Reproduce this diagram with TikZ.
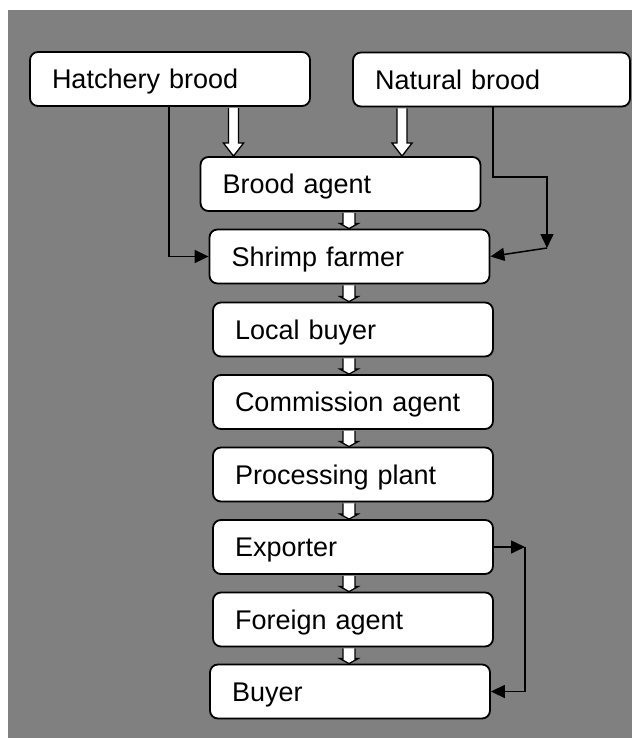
\documentclass[tikz,border=0pt]{standalone}
\usepackage{fontspec}
\setmainfont{Liberation Sans}
\usetikzlibrary{arrows.meta,calc}
\definecolor{bggray}{HTML}{808080}

% hollow (white) block arrow pointing down, from node #1 to node #2 along the
% vertical through coordinate #3; #4 shaft half width, #5 head half width, #6 head length
\newcommand\hollowdown[6]{%
  \filldraw[hollow]
    ($(#1.south -| #3)+(-#4,0.9)$) --
    ($(#2.north -| #3)+(-#4,-#6)$) --
    ($(#2.north -| #3)+(-#5,-#6)$) --
    (#2.north -| #3) --
    ($(#2.north -| #3)+(#5,-#6)$) --
    ($(#2.north -| #3)+(#4,-#6)$) --
    ($(#1.south -| #3)+(#4,0.9)$);
}

\tikzset{
  box/.style={draw=black, fill=white, line width=1.8pt, rounded corners=8pt,
    text width=236pt, inner xsep=22pt, inner ysep=0pt, minimum height=54pt,
    align=left, font=\fontsize{27}{32}\selectfont,
    text height=19.3pt, text depth=0pt},
  hollow/.style={draw=black, fill=white, line width=1.3pt, line join=miter},
  conn/.style={draw=black, line width=1.5pt, -{Triangle[length=14pt,width=13pt]}},
  plain/.style={draw=black, line width=1.5pt}
}

\begin{document}
\begin{tikzpicture}[x=1pt,y=-1pt]
  \useasboundingbox (0,0) rectangle (632,738);
  \fill[bggray] (8,10) rectangle (632,738);

  % boxes
  \node[box] (hatch) at (170,79) {Hatchery brood};
  \node[box, text width=233pt] (natural) at (491.5,79.5) {Natural brood};
  \node[box] (brood) at (340.5,184) {Brood agent};
  \node[box] (shrimp) at (349.5,256.5) {Shrimp farmer};
  \node[box] (local) at (353,329.5) {Local buyer};
  \node[box] (commission) at (353,402) {Commission agent};
  \node[box] (processing) at (353,474.5) {Processing plant};
  \node[box] (exporter) at (353,547) {Exporter};
  \node[box] (foreign) at (353,619.5) {Foreign agent};
  \node[box] (buyer) at (350,691.5) {Buyer};

  % guide coordinates for the vertical runs
  \coordinate (hx) at (233.5,0);
  \coordinate (nx) at (402,0);
  \coordinate (cx) at (349,0);
  \coordinate (hline) at (169,0);
  \coordinate (nline) at (493,0);
  \coordinate (nbend) at (547,177);
  \coordinate (elbow) at (547,248);
  \coordinate (ebend) at (525,547);

  % large hollow arrows into the brood agent
  \hollowdown{hatch}{brood}{hx}{5}{10}{13}
  \hollowdown{natural}{brood}{nx}{5}{10}{13}

  % small hollow arrows down the chain
  \hollowdown{brood}{shrimp}{cx}{6}{9}{5}
  \hollowdown{shrimp}{local}{cx}{6}{9}{5}
  \hollowdown{local}{commission}{cx}{6}{9}{5}
  \hollowdown{commission}{processing}{cx}{6}{9}{5}
  \hollowdown{processing}{exporter}{cx}{6}{9}{5}
  \hollowdown{exporter}{foreign}{cx}{6}{9}{5}
  \hollowdown{foreign}{buyer}{cx}{6}{9}{5}

  % direct supply lines to the shrimp farmer
  \draw[conn] (hatch.south -| hline) |- (shrimp.west);
  \draw[conn] (natural.south -| nline) |- (nbend) -- (elbow);
  \draw[conn] (elbow) -- (shrimp.east);

  % exporter straight to buyer
  \draw[conn] (exporter.east) -- (ebend);
  \draw[conn] (ebend) |- (buyer.east);
\end{tikzpicture}
\end{document}
